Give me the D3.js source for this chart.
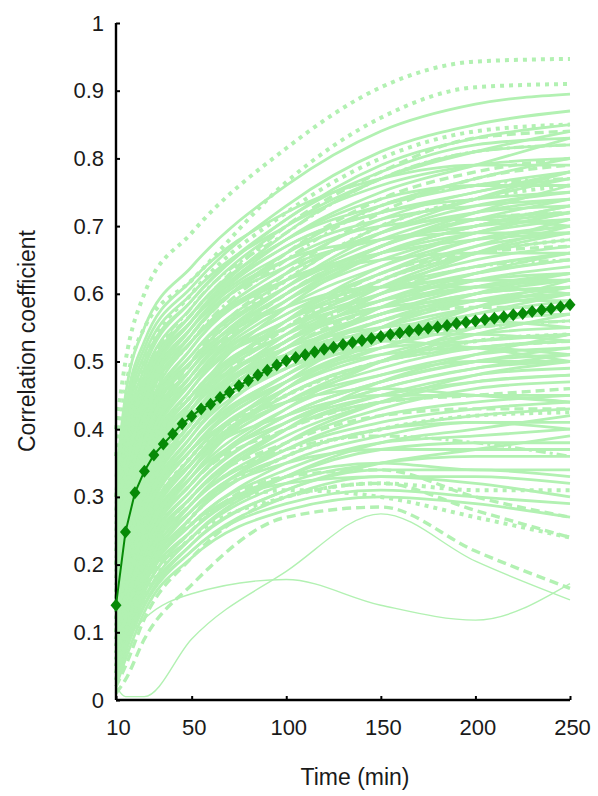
<!DOCTYPE html>
<html>
<head>
<meta charset="utf-8">
<script src="https://cdn.jsdelivr.net/npm/d3@7"></script>
<style>
  html, body { margin: 0; padding: 0; background: #ffffff; }
  svg { display: block; }
  text { font-family: "Liberation Sans", Arial, Helvetica, sans-serif; fill: #1a1a1a; }
</style>
</head>
<body>
<svg id="chart" width="598" height="796"></svg>
<script>
// ---------------- DATA ----------------
// sample times (min) for the individual curves
const sampleTimes = [10, 15, 25, 50, 100, 150, 200, 250];

// individual correlation curves, grouped by how they were drawn
const dottedSeries = [
  [0.40, 0.50, 0.60, 0.69, 0.815, 0.905, 0.943, 0.947],
  [0.36, 0.46, 0.55, 0.62, 0.765, 0.86, 0.905, 0.91],
  [0.30, 0.40, 0.50, 0.60, 0.72, 0.80, 0.84, 0.85],
  [0.20, 0.30, 0.40, 0.50, 0.62, 0.70, 0.74, 0.76],
  [0.15, 0.25, 0.35, 0.45, 0.55, 0.62, 0.66, 0.68],
  [0.10, 0.18, 0.26, 0.36, 0.45, 0.50, 0.53, 0.54],
  [0.05, 0.10, 0.17, 0.27, 0.36, 0.40, 0.42, 0.425],
  [0.03, 0.08, 0.15, 0.24, 0.30, 0.32, 0.31, 0.31],
  [0.04, 0.10, 0.18, 0.26, 0.31, 0.30, 0.27, 0.24]
];
const dashedSeries = [
  [0.01, 0.03, 0.09, 0.17, 0.27, 0.285, 0.22, 0.165],
  [0.02, 0.05, 0.12, 0.21, 0.30, 0.32, 0.28, 0.24],
  [0.03, 0.08, 0.16, 0.25, 0.33, 0.34, 0.30, 0.27],
  [0.05, 0.12, 0.20, 0.30, 0.38, 0.42, 0.43, 0.43],
  [0.08, 0.16, 0.25, 0.35, 0.45, 0.50, 0.52, 0.53],
  [0.12, 0.22, 0.32, 0.42, 0.52, 0.58, 0.61, 0.62],
  [0.18, 0.28, 0.38, 0.48, 0.60, 0.67, 0.71, 0.72],
  [0.22, 0.33, 0.44, 0.54, 0.66, 0.74, 0.78, 0.80],
  [0.28, 0.38, 0.48, 0.57, 0.70, 0.78, 0.83, 0.84],
  [0.16, 0.27, 0.38, 0.50, 0.63, 0.72, 0.77, 0.79],
  [0.10, 0.20, 0.30, 0.40, 0.50, 0.56, 0.58, 0.58],
  [0.14, 0.24, 0.33, 0.43, 0.55, 0.63, 0.66, 0.67],
  [0.06, 0.13, 0.22, 0.32, 0.40, 0.44, 0.45, 0.46]
];
const dashDotSeries = [
  [0.20, 0.31, 0.42, 0.53, 0.65, 0.73, 0.76, 0.77],
  [0.09, 0.19, 0.29, 0.40, 0.49, 0.53, 0.55, 0.56],
  [0.12, 0.21, 0.31, 0.41, 0.53, 0.60, 0.64, 0.65],
  [0.05, 0.12, 0.20, 0.29, 0.37, 0.39, 0.38, 0.36],
  [0.25, 0.36, 0.47, 0.58, 0.69, 0.77, 0.81, 0.82]
];
const solidSeries = [
  [0.33, 0.45, 0.55, 0.64, 0.76, 0.84, 0.88, 0.895],
  [0.30, 0.42, 0.52, 0.61, 0.73, 0.81, 0.85, 0.87],
  [0.28, 0.40, 0.50, 0.59, 0.71, 0.79, 0.83, 0.85],
  [0.26, 0.38, 0.48, 0.58, 0.70, 0.77, 0.81, 0.84],
  [0.24, 0.36, 0.46, 0.56, 0.68, 0.75, 0.79, 0.83],
  [0.27, 0.38, 0.47, 0.56, 0.67, 0.72, 0.75, 0.78],
  [0.22, 0.34, 0.44, 0.54, 0.66, 0.73, 0.77, 0.80],
  [0.20, 0.32, 0.43, 0.53, 0.64, 0.71, 0.75, 0.77],
  [0.25, 0.35, 0.45, 0.55, 0.64, 0.68, 0.70, 0.71],
  [0.18, 0.30, 0.41, 0.52, 0.63, 0.69, 0.73, 0.75],
  [0.21, 0.31, 0.41, 0.51, 0.61, 0.67, 0.71, 0.74],
  [0.17, 0.28, 0.39, 0.50, 0.61, 0.68, 0.72, 0.74],
  [0.19, 0.29, 0.39, 0.49, 0.59, 0.65, 0.69, 0.72],
  [0.15, 0.27, 0.38, 0.48, 0.59, 0.66, 0.70, 0.73],
  [0.16, 0.26, 0.36, 0.47, 0.58, 0.64, 0.68, 0.70],
  [0.14, 0.25, 0.36, 0.47, 0.57, 0.63, 0.67, 0.69],
  [0.20, 0.29, 0.38, 0.47, 0.56, 0.61, 0.64, 0.66],
  [0.13, 0.24, 0.35, 0.46, 0.56, 0.62, 0.66, 0.68],
  [0.15, 0.24, 0.34, 0.45, 0.55, 0.61, 0.65, 0.67],
  [0.12, 0.23, 0.34, 0.45, 0.55, 0.60, 0.63, 0.65],
  [0.17, 0.26, 0.35, 0.44, 0.53, 0.58, 0.62, 0.64],
  [0.11, 0.22, 0.33, 0.44, 0.54, 0.60, 0.64, 0.66],
  [0.14, 0.23, 0.32, 0.43, 0.53, 0.59, 0.62, 0.63],
  [0.10, 0.21, 0.32, 0.43, 0.53, 0.58, 0.61, 0.62],
  [0.13, 0.22, 0.31, 0.42, 0.52, 0.57, 0.60, 0.61],
  [0.12, 0.21, 0.30, 0.41, 0.51, 0.57, 0.61, 0.63],
  [0.09, 0.20, 0.30, 0.41, 0.51, 0.56, 0.59, 0.60],
  [0.11, 0.20, 0.29, 0.40, 0.50, 0.55, 0.58, 0.60],
  [0.10, 0.19, 0.29, 0.40, 0.50, 0.56, 0.60, 0.62],
  [0.08, 0.18, 0.28, 0.39, 0.49, 0.54, 0.57, 0.59],
  [0.12, 0.20, 0.28, 0.38, 0.48, 0.53, 0.56, 0.57],
  [0.09, 0.18, 0.27, 0.38, 0.48, 0.54, 0.58, 0.61],
  [0.07, 0.17, 0.27, 0.37, 0.47, 0.52, 0.55, 0.56],
  [0.10, 0.18, 0.26, 0.36, 0.46, 0.52, 0.56, 0.58],
  [0.08, 0.16, 0.25, 0.36, 0.46, 0.51, 0.54, 0.55],
  [0.06, 0.15, 0.25, 0.35, 0.45, 0.50, 0.53, 0.54],
  [0.09, 0.16, 0.24, 0.34, 0.44, 0.49, 0.52, 0.53],
  [0.07, 0.15, 0.24, 0.34, 0.44, 0.50, 0.54, 0.57],
  [0.06, 0.14, 0.23, 0.33, 0.43, 0.48, 0.51, 0.52],
  [0.08, 0.15, 0.23, 0.32, 0.42, 0.47, 0.50, 0.51],
  [0.05, 0.13, 0.22, 0.32, 0.42, 0.47, 0.50, 0.52],
  [0.07, 0.14, 0.22, 0.31, 0.41, 0.46, 0.49, 0.50],
  [0.05, 0.12, 0.21, 0.30, 0.40, 0.45, 0.48, 0.49],
  [0.06, 0.13, 0.21, 0.30, 0.39, 0.44, 0.47, 0.48],
  [0.04, 0.11, 0.20, 0.29, 0.38, 0.43, 0.46, 0.47],
  [0.05, 0.12, 0.19, 0.28, 0.37, 0.42, 0.44, 0.45],
  [0.04, 0.10, 0.18, 0.27, 0.36, 0.40, 0.42, 0.43],
  [0.05, 0.11, 0.18, 0.26, 0.35, 0.39, 0.41, 0.41],
  [0.03, 0.09, 0.17, 0.26, 0.34, 0.38, 0.39, 0.40],
  [0.04, 0.10, 0.17, 0.25, 0.33, 0.37, 0.38, 0.38],
  [0.03, 0.08, 0.16, 0.24, 0.32, 0.35, 0.36, 0.36],
  [0.04, 0.09, 0.15, 0.23, 0.31, 0.34, 0.34, 0.33],
  [0.02, 0.07, 0.14, 0.22, 0.30, 0.33, 0.33, 0.32],
  [0.03, 0.08, 0.14, 0.22, 0.29, 0.31, 0.30, 0.29],
  [0.18, 0.30, 0.42, 0.54, 0.65, 0.70, 0.71, 0.70],
  [0.23, 0.35, 0.46, 0.57, 0.68, 0.74, 0.76, 0.76],
  [0.29, 0.41, 0.51, 0.60, 0.70, 0.76, 0.79, 0.80],
  [0.31, 0.43, 0.53, 0.62, 0.72, 0.77, 0.79, 0.79],
  [0.26, 0.37, 0.47, 0.57, 0.68, 0.73, 0.76, 0.78],
  [0.11, 0.21, 0.31, 0.42, 0.54, 0.62, 0.67, 0.71],
  [0.08, 0.17, 0.27, 0.38, 0.50, 0.58, 0.63, 0.66],
  [0.06, 0.14, 0.24, 0.35, 0.47, 0.55, 0.60, 0.63],
  [0.13, 0.24, 0.34, 0.44, 0.52, 0.55, 0.56, 0.55],
  [0.10, 0.20, 0.31, 0.42, 0.51, 0.54, 0.54, 0.53],
  [0.07, 0.16, 0.26, 0.37, 0.44, 0.46, 0.45, 0.44],
  [0.02, 0.06, 0.13, 0.21, 0.28, 0.30, 0.29, 0.27],
  [0.16, 0.28, 0.40, 0.52, 0.62, 0.66, 0.68, 0.69],
  [0.19, 0.31, 0.43, 0.55, 0.66, 0.71, 0.73, 0.74],
  [0.14, 0.26, 0.37, 0.49, 0.60, 0.66, 0.69, 0.71],
  [0.09, 0.19, 0.30, 0.41, 0.53, 0.59, 0.63, 0.65],
  [0.05, 0.13, 0.23, 0.34, 0.45, 0.50, 0.52, 0.53],
  [0.04, 0.11, 0.20, 0.30, 0.40, 0.44, 0.45, 0.45],
  [0.21, 0.33, 0.45, 0.56, 0.67, 0.72, 0.74, 0.75],
  [0.12, 0.23, 0.33, 0.44, 0.56, 0.63, 0.68, 0.70],
  [0.07, 0.15, 0.24, 0.33, 0.41, 0.45, 0.47, 0.48],
  [0.22, 0.33, 0.42, 0.50, 0.60, 0.66, 0.70, 0.72],
  [0.15, 0.28, 0.41, 0.53, 0.62, 0.65, 0.66, 0.66],
  [0.10, 0.19, 0.30, 0.44, 0.58, 0.66, 0.70, 0.73],
  [0.08, 0.17, 0.28, 0.40, 0.52, 0.60, 0.66, 0.70],
  [0.19, 0.30, 0.40, 0.50, 0.58, 0.61, 0.61, 0.60],
  [0.13, 0.23, 0.35, 0.47, 0.59, 0.67, 0.72, 0.76],
  [0.06, 0.15, 0.27, 0.39, 0.51, 0.57, 0.60, 0.61],
  [0.11, 0.22, 0.34, 0.46, 0.57, 0.61, 0.62, 0.62],
  [0.09, 0.18, 0.29, 0.40, 0.49, 0.52, 0.53, 0.54],
  [0.05, 0.12, 0.22, 0.33, 0.46, 0.53, 0.57, 0.60],
  [0.17, 0.27, 0.37, 0.47, 0.55, 0.59, 0.61, 0.62],
  [0.24, 0.34, 0.44, 0.53, 0.63, 0.69, 0.72, 0.73],
  [0.12, 0.22, 0.32, 0.42, 0.53, 0.61, 0.66, 0.69],
  [0.07, 0.16, 0.26, 0.37, 0.48, 0.55, 0.59, 0.61],
  [0.10, 0.18, 0.27, 0.37, 0.47, 0.53, 0.58, 0.62],
  [0.14, 0.25, 0.35, 0.45, 0.54, 0.58, 0.59, 0.59],
  [0.06, 0.13, 0.22, 0.32, 0.43, 0.50, 0.55, 0.58],
  [0.08, 0.16, 0.25, 0.35, 0.44, 0.48, 0.50, 0.50],
  [0.04, 0.11, 0.19, 0.29, 0.40, 0.47, 0.51, 0.54],
  [0.05, 0.12, 0.20, 0.29, 0.37, 0.41, 0.43, 0.44],
  [0.03, 0.09, 0.17, 0.27, 0.38, 0.44, 0.48, 0.50],
  [0.09, 0.17, 0.26, 0.35, 0.42, 0.45, 0.45, 0.44],
  [0.04, 0.10, 0.18, 0.28, 0.36, 0.40, 0.41, 0.40],
  [0.06, 0.13, 0.20, 0.28, 0.35, 0.37, 0.37, 0.37],
  [0.03, 0.08, 0.15, 0.24, 0.33, 0.38, 0.40, 0.42],
  [0.02, 0.07, 0.14, 0.23, 0.31, 0.35, 0.37, 0.39],
  [0.05, 0.11, 0.18, 0.26, 0.32, 0.33, 0.32, 0.30],
  [0.03, 0.09, 0.16, 0.25, 0.33, 0.35, 0.34, 0.34],
  [0.18, 0.29, 0.40, 0.51, 0.62, 0.70, 0.74, 0.77],
  [0.16, 0.27, 0.38, 0.49, 0.61, 0.69, 0.74, 0.78],
  [0.23, 0.34, 0.45, 0.56, 0.69, 0.77, 0.81, 0.82],
  [0.27, 0.39, 0.49, 0.59, 0.71, 0.78, 0.82, 0.83],
  [0.20, 0.32, 0.44, 0.55, 0.65, 0.68, 0.69, 0.69],
  [0.13, 0.24, 0.36, 0.48, 0.60, 0.67, 0.71, 0.72],
  [0.11, 0.20, 0.31, 0.43, 0.56, 0.64, 0.69, 0.72],
  [0.08, 0.18, 0.29, 0.41, 0.52, 0.57, 0.59, 0.60],
  [0.07, 0.14, 0.23, 0.34, 0.46, 0.53, 0.56, 0.57],
  [0.10, 0.19, 0.28, 0.38, 0.47, 0.51, 0.52, 0.51],
  [0.05, 0.12, 0.21, 0.31, 0.41, 0.46, 0.49, 0.51],
  [0.12, 0.23, 0.33, 0.43, 0.51, 0.53, 0.52, 0.50]
];
// two outlying thin curves at the bottom
const thinSeries = [
  [0.07, 0.089, 0.12, 0.157, 0.178, 0.14, 0.118, 0.172],
  [0.02, 0.005, 0.005, 0.09, 0.19, 0.275, 0.205, 0.148]
];

// mean curve (every 5 min)
const meanTimes = d3.range(10, 251, 5);
const meanValues = [
  0.140, 0.248, 0.306, 0.338, 0.362, 0.378, 0.393, 0.408, 0.419, 0.430,
  0.437, 0.447, 0.455, 0.464, 0.472, 0.480, 0.487, 0.495, 0.501, 0.506,
  0.510, 0.514, 0.518, 0.521, 0.525, 0.528, 0.531, 0.534, 0.537, 0.540,
  0.542, 0.545, 0.547, 0.549, 0.551, 0.553, 0.556, 0.558, 0.560, 0.562,
  0.564, 0.566, 0.569, 0.571, 0.574, 0.576, 0.578, 0.581, 0.584
];

const xTickValues = [10, 50, 100, 150, 200, 250];
const yTickValues = [0, 0.1, 0.2, 0.3, 0.4, 0.5, 0.6, 0.7, 0.8, 0.9, 1];
const xTitle = "Time (min)";
const yTitle = "Correlation coefficient";

// ---------------- DRAW ----------------
const svg = d3.select("#chart");
const x = d3.scaleLinear().domain([10, 250]).range([116, 570]);
const y = d3.scaleLinear().domain([0, 1]).range([700, 23]);

const light = "#b2f1b2";
const dark = "#078a07";

const line = d3.line()
  .x((d, i) => x(sampleTimes[i]))
  .y(d => y(d))
  .curve(d3.curveMonotoneX);

const gLines = svg.append("g");
function drawGroup(series, width, dash) {
  gLines.selectAll(null).data(series).enter().append("path")
    .attr("d", line)
    .attr("fill", "none")
    .attr("stroke", light)
    .attr("stroke-width", width)
    .attr("stroke-dasharray", dash)
    .attr("stroke-linejoin", "round");
}
drawGroup(solidSeries, 2.8, null);
drawGroup(dashedSeries, 3.4, "9,5");
drawGroup(dashDotSeries, 3.2, "10,4,3,4");
drawGroup(dottedSeries, 4, "4,5");
drawGroup(thinSeries, 1.4, null);

// axes
const yAxis = d3.axisLeft(y).tickValues(yTickValues).tickSize(-4).tickPadding(12)
  .tickFormat(d => d3.format("~g")(d));
const xAxis = d3.axisBottom(x).tickValues(xTickValues).tickSize(-4).tickPadding(19);

const gy = svg.append("g").attr("transform", "translate(116,0)").call(yAxis);
const gx = svg.append("g").attr("transform", "translate(0,700)").call(xAxis);
[gx, gy].forEach(g => {
  g.select(".domain").attr("stroke", "#000").attr("stroke-width", 2.4)
    .attr("d", g === gx ? "M116,0H570" : "M0,23V700");
  g.selectAll(".tick line").attr("stroke", "#000").attr("stroke-width", 2);
  g.selectAll(".tick text").attr("font-size", 22)
    .attr("font-family", "Liberation Sans, Arial, sans-serif").attr("fill", "#1a1a1a");
});
gx.selectAll(".tick text").attr("dx", 2);

// mean curve
const meanLine = d3.line().x((d, i) => x(meanTimes[i])).y(d => y(d));
svg.append("path").datum(meanValues)
  .attr("d", meanLine).attr("fill", "none")
  .attr("stroke", dark).attr("stroke-width", 2);
svg.append("g").selectAll("path").data(meanValues).enter().append("path")
  .attr("transform", (d, i) => `translate(${x(meanTimes[i])},${y(d)})`)
  .attr("d", "M0,-6.5L5.5,0L0,6.5L-5.5,0Z")
  .attr("fill", dark);

// titles
svg.append("text").attr("x", 355).attr("y", 785).attr("text-anchor", "middle")
  .attr("font-size", 23).text(xTitle);
svg.append("text").attr("transform", "translate(35,341) rotate(-90)")
  .attr("text-anchor", "middle").attr("font-size", 23).text(yTitle);
</script>
</body>
</html>
